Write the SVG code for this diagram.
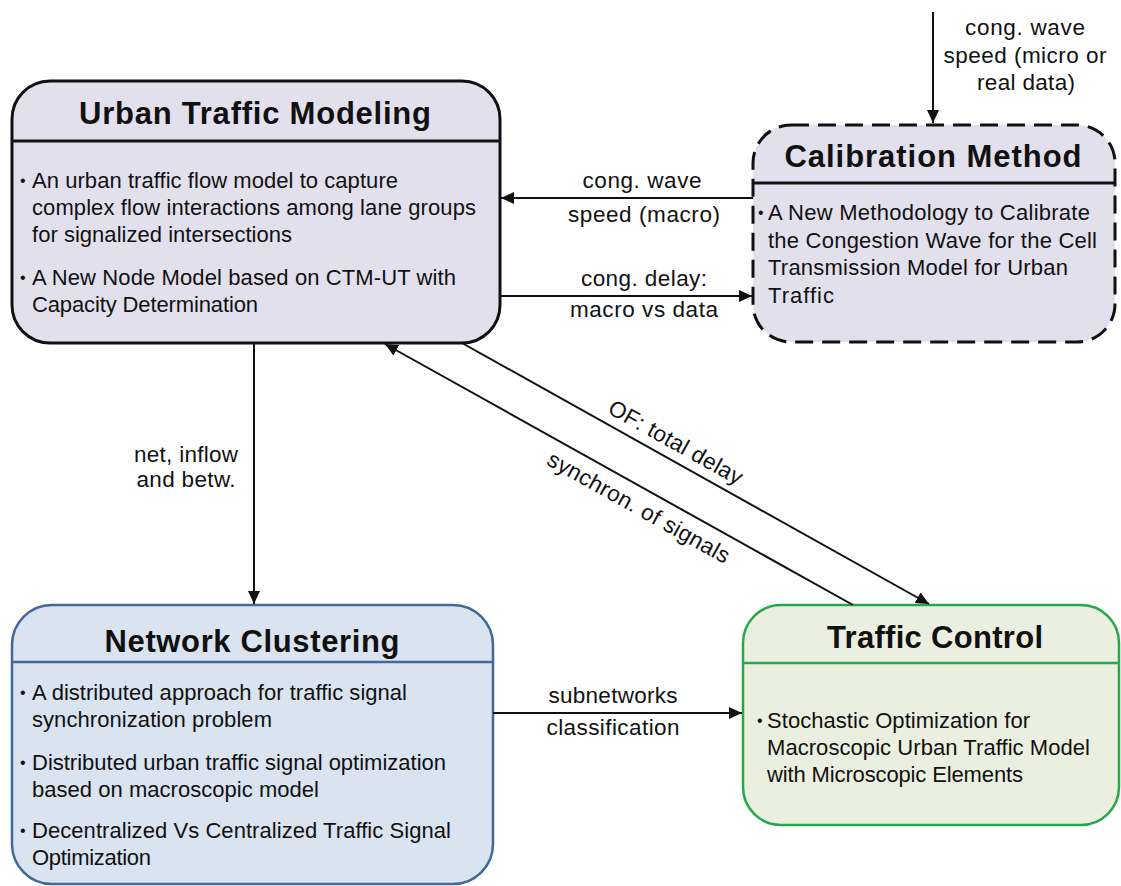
<svg xmlns="http://www.w3.org/2000/svg" width="1121" height="886" viewBox="0 0 1121 886">
<defs>
<marker id="ah" markerUnits="userSpaceOnUse" markerWidth="14" markerHeight="12" refX="13" refY="6" orient="auto">
<path d="M0,0 L13,6 L0,12 z" fill="#111"/>
</marker>
<style>
.title{font-family:"Liberation Sans",Arial,sans-serif;font-weight:bold;font-size:31px;fill:#111;text-anchor:middle}
.body{font-family:"Liberation Sans",Arial,sans-serif;font-size:22px;fill:#111}
.bul{font-family:"Liberation Sans",Arial,sans-serif;font-size:16px;fill:#111}
.lbl{font-family:"Liberation Sans",Arial,sans-serif;font-size:22.5px;fill:#111;text-anchor:middle}
.conn{stroke:#111;stroke-width:2;fill:none;marker-end:url(#ah)}
</style>
</defs>
<rect width="1121" height="886" fill="#ffffff"/>

<g id="urban-traffic-modeling">
<rect x="12" y="81" width="488" height="262" rx="38" ry="38" fill="#e3e0ee" stroke="#111" stroke-width="3"/>
<line x1="12" y1="141" x2="500" y2="141" stroke="#111" stroke-width="3"/>
<text class="title" x="255" y="124" textLength="352">Urban Traffic Modeling</text>
<text class="bul" x="20" y="186">•</text>
<text class="body" x="32" y="188" textLength="366">An urban traffic flow model to capture</text>
<text class="body" x="32" y="215" textLength="444">complex flow interactions among lane groups</text>
<text class="body" x="32" y="242" textLength="260">for signalized intersections</text>
<text class="bul" x="20" y="283">•</text>
<text class="body" x="32" y="285" textLength="424">A New Node Model based on CTM-UT with</text>
<text class="body" x="32" y="312" textLength="226">Capacity Determination</text>
</g>

<g id="calibration-method">
<rect x="753" y="125" width="362" height="217" rx="38" ry="38" fill="#e3e0ee" stroke="#111" stroke-width="3" stroke-dasharray="18 9"/>
<line x1="753" y1="183" x2="1115" y2="183" stroke="#111" stroke-width="3"/>
<text class="title" x="933" y="167" textLength="297">Calibration Method</text>
<text class="bul" x="758" y="218">•</text>
<text class="body" x="768" y="220" textLength="322">A New Methodology to Calibrate</text>
<text class="body" x="768" y="248" textLength="329">the Congestion Wave for the Cell</text>
<text class="body" x="768" y="275" textLength="300">Transmission Model for Urban</text>
<text class="body" x="768" y="303" textLength="66">Traffic</text>
</g>

<g id="network-clustering">
<rect x="12" y="605" width="481" height="279" rx="40" ry="40" fill="#dae3f0" stroke="#41699a" stroke-width="2.5"/>
<line x1="12" y1="662" x2="493" y2="662" stroke="#41699a" stroke-width="2.5"/>
<text class="title" x="252" y="652" textLength="295">Network Clustering</text>
<text class="bul" x="20" y="698">•</text>
<text class="body" x="32" y="700" textLength="375">A distributed approach for traffic signal</text>
<text class="body" x="32" y="727" textLength="240">synchronization problem</text>
<text class="bul" x="20" y="768">•</text>
<text class="body" x="32" y="770" textLength="414">Distributed urban traffic signal optimization</text>
<text class="body" x="32" y="797" textLength="287">based on macroscopic model</text>
<text class="bul" x="20" y="836">•</text>
<text class="body" x="32" y="838" textLength="419">Decentralized Vs Centralized Traffic Signal</text>
<text class="body" x="32" y="865" textLength="119">Optimization</text>
</g>

<g id="traffic-control">
<rect x="743" y="605" width="376" height="220" rx="38" ry="38" fill="#ebefdf" stroke="#26a84a" stroke-width="2.5"/>
<line x1="743" y1="663" x2="1119" y2="663" stroke="#26a84a" stroke-width="2.5"/>
<text class="title" x="935" y="648" textLength="216">Traffic Control</text>
<text class="bul" x="757" y="726">•</text>
<text class="body" x="767" y="728" textLength="263">Stochastic Optimization for</text>
<text class="body" x="767" y="755" textLength="323">Macroscopic Urban Traffic Model</text>
<text class="body" x="767" y="782" textLength="256">with Microscopic Elements</text>
</g>

<g id="connectors">
<line class="conn" x1="933" y1="12" x2="933" y2="123"/>
<line class="conn" x1="753" y1="198" x2="501" y2="198"/>
<line class="conn" x1="500" y1="296" x2="752" y2="296"/>
<line class="conn" x1="254" y1="343" x2="254" y2="604"/>
<line class="conn" x1="493" y1="713" x2="742" y2="713"/>
<line class="conn" x1="853" y1="605" x2="385" y2="344"/>
<line class="conn" x1="462" y1="343" x2="929" y2="604"/>
<text class="lbl" x="1025" y="35" textLength="120">cong. wave</text>
<text class="lbl" x="1025" y="63" textLength="163">speed (micro or</text>
<text class="lbl" x="1026" y="90" textLength="98">real data)</text>
<text class="lbl" x="642" y="188" textLength="119">cong. wave</text>
<text class="lbl" x="644" y="222" textLength="152">speed (macro)</text>
<text class="lbl" x="644" y="286" textLength="126">cong. delay:</text>
<text class="lbl" x="644" y="317" textLength="148">macro vs data</text>
<text class="lbl" x="186" y="462" textLength="104">net, inflow</text>
<text class="lbl" x="186" y="487" textLength="99">and betw.</text>
<text class="lbl" x="613" y="703" textLength="129">subnetworks</text>
<text class="lbl" x="613" y="735" textLength="133">classification</text>
<text class="lbl" transform="translate(672,449) rotate(29.2)" textLength="150">OF: total delay</text>
<text class="lbl" transform="translate(635,514) rotate(29.2)" textLength="205">synchron. of signals</text>
</g>
</svg>
